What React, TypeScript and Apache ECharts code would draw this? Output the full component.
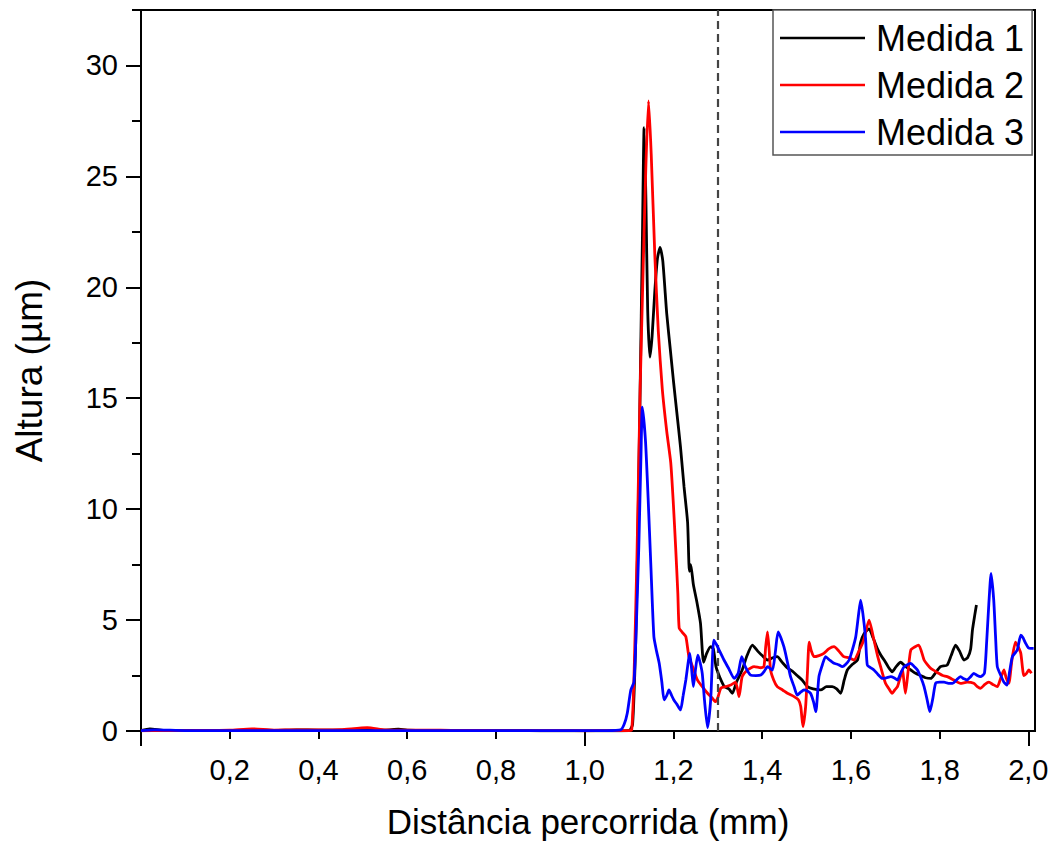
import React, { useEffect, useRef } from "react";
import * as echarts from "echarts";

const seriesNames = ["Medida 1", "Medida 2", "Medida 3"];
const seriesColors = ["#000000", "#ff0000", "#0000ff"];
const xTickValues = [0, 0.2, 0.4, 0.6, 0.8, 1.0, 1.2, 1.4, 1.6, 1.8, 2.0];
const xLongTickValues = [0, 1.0, 2.0];
const xLabelValues = [0.2, 0.4, 0.6, 0.8, 1.0, 1.2, 1.4, 1.6, 1.8, 2.0];
const yTickValues = [0, 5, 10, 15, 20, 25, 30];
const yMinorTickValues = [2.5, 7.5, 12.5, 17.5, 22.5, 27.5, 32.5];
const dashedLineX = 1.3;

const m1X = [0, 0.02, 0.05, 0.1, 0.15, 0.2, 0.25, 0.3, 0.35, 0.4, 0.45, 0.5, 0.55, 0.58, 0.6, 0.65, 0.7, 0.75, 0.8, 0.85, 0.9, 0.95, 1.0, 1.05, 1.1,
  1.108, 1.115, 1.12, 1.125, 1.13, 1.134, 1.138, 1.142, 1.147, 1.152, 1.158, 1.164, 1.17, 1.176, 1.185, 1.193, 1.2, 1.208, 1.216, 1.224, 1.232, 1.236, 1.239, 1.245, 1.253, 1.261, 1.268, 1.275, 1.284, 1.29, 1.296, 1.305, 1.315, 1.325, 1.333, 1.342, 1.355, 1.366, 1.378, 1.39, 1.4, 1.412, 1.424, 1.434, 1.445, 1.457, 1.468, 1.479, 1.49, 1.502, 1.515, 1.532, 1.545, 1.558, 1.568, 1.577, 1.585, 1.592, 1.603, 1.615, 1.622, 1.63, 1.641, 1.65, 1.66, 1.668, 1.675, 1.684, 1.693, 1.702, 1.712, 1.724, 1.735, 1.746, 1.757, 1.768, 1.78, 1.79, 1.802, 1.817, 1.826, 1.836, 1.845, 1.855, 1.863, 1.87, 1.874, 1.879, 1.883];
const m1Y = [0.02, 0.1, 0.03, 0.02, 0.03, 0.02, 0.04, 0.03, 0.05, 0.04, 0.04, 0.05, 0.04, 0.08, 0.04, 0.03, 0.03, 0.02, 0.02, 0.02, 0.01, 0.01, 0.01, 0.01, 0.02,
  0.3, 4, 9, 15.4, 22, 27.2, 24, 19, 16.85, 17.8, 19.8, 21.3, 21.8, 21.2, 18.8, 17.2, 15.8, 14.3, 12.8, 11.0, 9.4, 7.2, 7.5, 6.6, 5.8, 4.86, 3.1, 3.5, 3.8, 3.7, 2.9, 2.4, 2.0, 1.9, 1.7, 2.2, 2.75, 3.4, 3.87, 3.6, 3.4, 3.2, 3.3, 3.35, 3.1, 2.84, 2.7, 2.5, 2.3, 2.0, 1.9, 1.85, 2.0, 2.0, 1.9, 1.7, 2.3, 2.75, 3.0, 3.2, 4.0, 4.4, 4.6, 4.2, 3.7, 3.4, 3.2, 2.9, 2.67, 2.9, 3.1, 2.9, 2.75, 2.6, 2.5, 2.4, 2.37, 2.6, 2.9, 2.97, 3.4, 3.87, 3.6, 3.2, 3.3, 3.7, 4.55, 5.2, 5.68];

const m2X = [0, 0.05, 0.1, 0.15, 0.2, 0.25, 0.3, 0.35, 0.4, 0.45, 0.51, 0.55, 0.6, 0.65, 0.7, 0.75, 0.8, 0.85, 0.9, 0.95, 1.0, 1.05, 1.1,
  1.106, 1.111, 1.118, 1.125, 1.132, 1.138, 1.144, 1.15, 1.158, 1.166, 1.175, 1.185, 1.194, 1.2, 1.205, 1.21, 1.213, 1.22, 1.228, 1.235, 1.245, 1.254, 1.265, 1.277, 1.287, 1.295, 1.3, 1.307, 1.318, 1.329, 1.34, 1.348, 1.355, 1.367, 1.382, 1.397, 1.404, 1.408, 1.412, 1.416, 1.419, 1.426, 1.434, 1.446, 1.457, 1.472, 1.482, 1.487, 1.492, 1.498, 1.502, 1.506, 1.511, 1.517, 1.528, 1.539, 1.55, 1.562, 1.573, 1.584, 1.596, 1.607, 1.618, 1.629, 1.641, 1.652, 1.66, 1.667, 1.678, 1.686, 1.693, 1.699, 1.705, 1.711, 1.716, 1.723, 1.729, 1.735, 1.745, 1.753, 1.765, 1.772, 1.78, 1.79, 1.798, 1.807, 1.817, 1.832, 1.847, 1.862, 1.877, 1.885, 1.892, 1.902, 1.911, 1.92, 1.93, 1.938, 1.945, 1.95, 1.956, 1.963, 1.971, 1.977, 1.983, 1.99, 1.996, 2.001, 2.007];
const m2Y = [0.01, 0.02, 0.02, 0.03, 0.04, 0.1, 0.04, 0.05, 0.05, 0.06, 0.15, 0.05, 0.04, 0.04, 0.03, 0.03, 0.02, 0.02, 0.02, 0.02, 0.01, 0.02, 0.02,
  0.05, 2.3, 8, 15.4, 21, 25.5, 28.4, 26, 21.5, 18, 15.4, 13.5, 12.1, 10.2, 8.3, 6.2, 4.64, 4.45, 4.25, 3.35, 2.8, 2.3, 2.0, 1.7, 1.5, 1.32, 1.5, 1.93, 2.0, 2.07, 2.2, 1.55, 2.45, 2.75, 2.9, 2.85, 2.9, 3.8, 4.47, 3.6, 2.75, 2.3, 2.0, 1.85, 1.7, 1.55, 1.4, 1.1, 0.2, 1.1, 2.6, 4.0, 3.6, 3.35, 3.4, 3.5, 3.7, 3.8, 3.6, 3.35, 3.3, 3.2, 3.6, 4.1, 5.0, 4.1, 3.4, 2.9, 2.15, 1.9, 1.7, 1.85, 2.0, 2.4, 2.75, 1.7, 2.7, 3.65, 3.8, 3.87, 3.2, 3.0, 2.82, 2.7, 2.6, 2.5, 2.45, 2.3, 2.15, 2.2, 2.15, 2.0, 1.92, 2.1, 2.2, 2.1, 2.0, 2.4, 2.75, 2.4, 2.15, 3.2, 4.0, 3.8, 3.5, 2.5, 2.6, 2.75, 2.6];

const m3X = [0, 0.03, 0.1, 0.15, 0.2, 0.25, 0.3, 0.35, 0.4, 0.45, 0.5, 0.55, 0.6, 0.65, 0.7, 0.75, 0.8, 0.85, 0.9, 0.95, 1.0, 1.05, 1.081,
  1.089, 1.096, 1.104, 1.111, 1.116, 1.122, 1.127, 1.13, 1.137, 1.143, 1.149, 1.156, 1.162, 1.168, 1.174, 1.179, 1.185, 1.19, 1.196, 1.201, 1.208, 1.216, 1.222, 1.228, 1.237, 1.241, 1.245, 1.25, 1.255, 1.26, 1.265, 1.27, 1.277, 1.284, 1.291, 1.297, 1.303, 1.314, 1.325, 1.337, 1.346, 1.354, 1.362, 1.374, 1.386, 1.397, 1.405, 1.412, 1.423, 1.43, 1.436, 1.449, 1.457, 1.464, 1.472, 1.479, 1.487, 1.494, 1.502, 1.509, 1.516, 1.521, 1.528, 1.536, 1.543, 1.552, 1.562, 1.571, 1.581, 1.588, 1.596, 1.604, 1.611, 1.617, 1.622, 1.627, 1.633, 1.637, 1.645, 1.652, 1.661, 1.671, 1.68, 1.69, 1.697, 1.705, 1.712, 1.72, 1.735, 1.743, 1.75, 1.758, 1.765, 1.772, 1.778, 1.785, 1.791, 1.8, 1.81, 1.82, 1.829, 1.838, 1.847, 1.855, 1.862, 1.87, 1.877, 1.885, 1.892, 1.901, 1.906, 1.911, 1.916, 1.922, 1.926, 1.93, 1.938, 1.945, 1.952, 1.958, 1.964, 1.975, 1.983, 1.988, 1.994, 2.0, 2.005, 2.012];
const m3Y = [0.02, 0.05, 0.02, 0.02, 0.02, 0.02, 0.02, 0.02, 0.02, 0.02, 0.02, 0.02, 0.02, 0.02, 0.02, 0.02, 0.02, 0.02, 0.02, 0.02, 0.02, 0.02, 0.05,
  0.3, 0.8, 1.85, 2.2, 4.5, 8.3, 12.5, 14.6, 13.1, 10.5, 7.55, 4.25, 3.6, 3.05, 2.2, 1.4, 1.6, 1.85, 1.6, 1.4, 1.2, 0.95, 1.6, 2.3, 3.5, 2.8, 2.0, 2.8, 3.42, 3.1, 2.6, 1.4, 0.15, 1.4, 4.1, 3.9, 3.65, 3.2, 2.8, 2.37, 2.6, 3.35, 2.9, 2.52, 2.5, 2.52, 2.7, 2.9, 2.75, 3.6, 4.47, 3.8, 3.1, 2.45, 2.0, 1.62, 1.75, 1.85, 1.8, 1.7, 1.3, 0.87, 2.45, 3.0, 3.35, 3.2, 3.05, 3.0, 2.9, 3.0, 3.2, 3.7, 4.25, 5.2, 5.9, 5.3, 4.2, 2.97, 2.85, 2.75, 2.55, 2.37, 2.4, 2.45, 2.4, 2.3, 2.6, 2.9, 3.05, 2.9, 2.75, 2.4, 2.0, 1.4, 0.87, 1.5, 2.15, 2.2, 2.2, 2.15, 2.15, 2.3, 2.45, 2.35, 2.3, 2.45, 2.6, 2.5, 2.45, 2.6, 4.0, 5.75, 7.1, 5.9, 4.3, 2.9, 2.5, 2.2, 2.07, 2.7, 3.35, 3.65, 4.32, 4.2, 3.95, 3.75, 3.72, 3.72];

const allX = [m1X, m2X, m3X];
const allY = [m1Y, m2Y, m3Y];

const FONT = "'Liberation Sans', Arial, sans-serif";
const X_MIN = 0;
const X_MAX = 2.015;
const Y_MIN = 0;
const Y_MAX = 32.5;

const fmt = (v: number) => v.toFixed(1).replace(".", ",");

export default function App() {
  const ref = useRef<HTMLDivElement>(null);
  useEffect(() => {
    if (!ref.current) return;
    const chart = echarts.init(ref.current, undefined, { renderer: "svg" });
    const series: any[] = seriesNames.map((name, i) => ({
      name,
      type: "line",
      xAxisIndex: 0,
      yAxisIndex: 0,
      data: allX[i].map((x, j) => [x, allY[i][j]]),
      showSymbol: false,
      symbol: "none",
      smooth: 0.2,
      lineStyle: { color: seriesColors[i], width: 2.8 },
      itemStyle: { color: seriesColors[i] },
      z: 3 + i,
      ...(i === 0
        ? {
            markLine: {
              silent: true,
              symbol: ["none", "none"],
              label: { show: false },
              lineStyle: { type: [8, 5], color: "#444", width: 2.2 },
              data: [{ xAxis: dashedLineX }],
            },
          }
        : {}),
    }));
    chart.setOption({
      animation: false,
      backgroundColor: "#ffffff",
      grid: {
        left: 141,
        right: 20,
        top: 10,
        bottom: 112,
        outerBoundsMode: "none",
        containLabel: false,
        show: true,
        borderColor: "#000",
        borderWidth: 2,
        backgroundColor: "transparent",
      },
      legend: {
        data: seriesNames,
        orient: "vertical",
        left: 773,
        top: 10,
        padding: [10, 8, 5, 7],
        icon: "rect",
        itemWidth: 85,
        itemHeight: 2.5,
        itemGap: 11,
        backgroundColor: "#ffffff",
        borderColor: "#555",
        borderWidth: 1.5,
        borderRadius: 0,
        textStyle: {
          fontFamily: FONT,
          fontSize: 36,
          color: "#000",
          lineHeight: 36,
          padding: [0, 0, 0, 6],
        },
      },
      xAxis: [
        {
          type: "value",
          min: X_MIN,
          max: X_MAX,
          position: "bottom",
          name: "Distância percorrida (mm)",
          nameLocation: "middle",
          nameGap: 73,
          nameTextStyle: { fontFamily: FONT, fontSize: 35, lineHeight: 35, color: "#000" },
          axisLine: { show: true, onZero: false, lineStyle: { color: "#000", width: 2 } },
          axisTick: {
            show: true,
            inside: false,
            length: 8,
            lineStyle: { color: "#000", width: 2 },
            customValues: xTickValues,
          },
          axisLabel: {
            show: true,
            margin: 24,
            fontFamily: FONT,
            fontSize: 29,
            color: "#000",
            customValues: xLabelValues,
            formatter: (v: number) => fmt(v),
          },
          splitLine: { show: false },
        },
        {
          type: "value",
          min: X_MIN,
          max: X_MAX,
          position: "bottom",
          axisLine: { show: false },
          axisTick: {
            show: true,
            inside: false,
            length: 15,
            lineStyle: { color: "#000", width: 2 },
            customValues: xLongTickValues,
          },
          axisLabel: { show: false },
          splitLine: { show: false },
        },
      ],
      yAxis: [
        {
          type: "value",
          min: Y_MIN,
          max: Y_MAX,
          position: "left",
          name: "Altura (µm)",
          nameLocation: "middle",
          nameGap: 93,
          nameRotate: 90,
          nameTextStyle: { fontFamily: FONT, fontSize: 37, color: "#000" },
          axisLine: { show: true, onZero: false, lineStyle: { color: "#000", width: 2 } },
          axisTick: {
            show: true,
            inside: false,
            length: 15,
            lineStyle: { color: "#000", width: 2 },
            customValues: yTickValues,
          },
          axisLabel: {
            show: true,
            margin: 23,
            fontFamily: FONT,
            fontSize: 29,
            color: "#000",
            customValues: yTickValues,
            formatter: (v: number) => String(v),
          },
          splitLine: { show: false },
        },
        {
          type: "value",
          min: Y_MIN,
          max: Y_MAX,
          position: "left",
          axisLine: { show: false },
          axisTick: {
            show: true,
            inside: false,
            length: 9,
            lineStyle: { color: "#000", width: 2 },
            customValues: yMinorTickValues,
          },
          axisLabel: { show: false },
          splitLine: { show: false },
        },
      ],
      series,
    });
    return () => chart.dispose();
  }, []);
  return (
    <div
      ref={ref}
      style={{ position: "fixed", left: 0, top: 0, width: 1055, height: 843, background: "#fff" }}
    />
  );
}
